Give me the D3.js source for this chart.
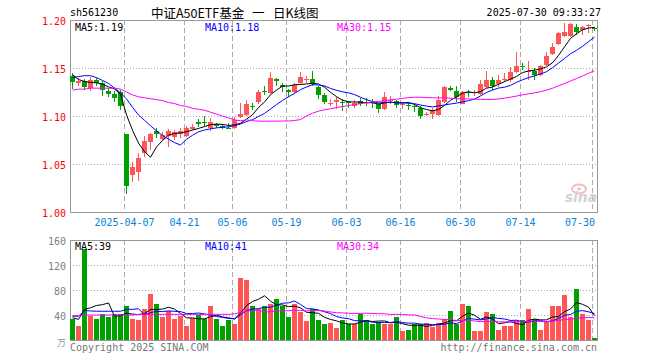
<!DOCTYPE html>
<html><head><meta charset="utf-8">
<script src="https://cdn.jsdelivr.net/npm/d3@7"></script>
<style>html,body{margin:0;padding:0;background:#fff;}svg{display:block;}</style>
</head><body>
<svg id="c" width="660" height="360"></svg>
<script>
const dates = ["2025-03-24","2025-03-25","2025-03-26","2025-03-27","2025-03-28","2025-03-31","2025-04-01","2025-04-02","2025-04-03","2025-04-07",
"2025-04-08","2025-04-09","2025-04-10","2025-04-11","2025-04-14","2025-04-15","2025-04-16","2025-04-17","2025-04-18","2025-04-21",
"2025-04-22","2025-04-23","2025-04-24","2025-04-25","2025-04-28","2025-04-29","2025-04-30","2025-05-06","2025-05-07","2025-05-08",
"2025-05-09","2025-05-12","2025-05-13","2025-05-14","2025-05-15","2025-05-16","2025-05-19","2025-05-20","2025-05-21","2025-05-22",
"2025-05-23","2025-05-26","2025-05-27","2025-05-28","2025-05-29","2025-05-30","2025-06-03","2025-06-04","2025-06-05","2025-06-06",
"2025-06-09","2025-06-10","2025-06-11","2025-06-12","2025-06-13","2025-06-16","2025-06-17","2025-06-18","2025-06-19","2025-06-20",
"2025-06-23","2025-06-24","2025-06-25","2025-06-26","2025-06-27","2025-06-30","2025-07-01","2025-07-02","2025-07-03","2025-07-04",
"2025-07-07","2025-07-08","2025-07-09","2025-07-10","2025-07-11","2025-07-14","2025-07-15","2025-07-16","2025-07-17","2025-07-18",
"2025-07-21","2025-07-22","2025-07-23","2025-07-24","2025-07-25","2025-07-28","2025-07-29","2025-07-30"];

const open = [1.142,1.134,1.136,1.129,1.138,1.134,1.126,1.123,1.125,1.081,
1.039,1.042,1.061,1.073,1.084,1.076,1.079,1.078,1.081,1.079,
1.086,1.094,1.094,1.087,1.092,1.090,1.088,1.087,1.099,1.101,
1.110,1.115,1.126,1.124,1.139,1.132,1.127,1.125,1.134,1.138,
1.139,1.130,1.122,1.113,1.115,1.115,1.115,1.110,1.116,1.115,
1.115,1.112,1.107,1.116,1.116,1.112,1.111,1.110,1.108,1.101,
1.102,1.101,1.115,1.129,1.126,1.113,1.125,1.124,1.123,1.130,
1.137,1.133,1.137,1.137,1.146,1.152,1.146,1.147,1.143,1.153,
1.165,1.175,1.183,1.183,1.193,1.190,1.194,1.192];

const close = [1.135,1.136,1.130,1.138,1.134,1.127,1.123,1.119,1.110,1.027,
1.047,1.056,1.074,1.081,1.081,1.080,1.084,1.083,1.084,1.087,
1.089,1.092,1.093,1.094,1.090,1.087,1.087,1.096,1.102,1.112,
1.109,1.125,1.125,1.140,1.136,1.130,1.125,1.132,1.141,1.139,
1.133,1.122,1.115,1.114,1.117,1.114,1.114,1.114,1.113,1.114,
1.114,1.107,1.120,1.117,1.111,1.113,1.110,1.109,1.100,1.102,
1.106,1.117,1.130,1.127,1.120,1.125,1.124,1.125,1.133,1.138,
1.131,1.138,1.139,1.146,1.152,1.151,1.147,1.143,1.152,1.163,
1.172,1.186,1.187,1.196,1.187,1.193,1.195,1.191];

const high = [1.145,1.140,1.139,1.141,1.140,1.136,1.129,1.126,1.127,1.081,
1.052,1.061,1.079,1.082,1.088,1.083,1.086,1.085,1.088,1.090,
1.092,1.097,1.100,1.098,1.093,1.092,1.093,1.099,1.114,1.117,
1.114,1.127,1.131,1.146,1.140,1.134,1.128,1.134,1.146,1.142,
1.147,1.131,1.124,1.118,1.120,1.118,1.116,1.117,1.119,1.119,
1.118,1.114,1.125,1.121,1.117,1.115,1.114,1.112,1.110,1.104,
1.108,1.121,1.131,1.131,1.131,1.126,1.127,1.127,1.138,1.147,
1.141,1.143,1.145,1.151,1.167,1.155,1.157,1.150,1.153,1.167,
1.176,1.187,1.197,1.197,1.196,1.194,1.196,1.193];

const low = [1.128,1.131,1.127,1.126,1.131,1.121,1.120,1.115,1.106,1.019,
1.031,1.032,1.057,1.065,1.077,1.075,1.068,1.075,1.077,1.078,
1.085,1.089,1.089,1.084,1.087,1.086,1.086,1.086,1.098,1.100,
1.106,1.113,1.122,1.123,1.131,1.125,1.120,1.124,1.133,1.134,
1.131,1.118,1.112,1.110,1.107,1.105,1.108,1.108,1.110,1.110,
1.108,1.103,1.106,1.112,1.108,1.107,1.106,1.104,1.097,1.100,
1.097,1.100,1.114,1.126,1.115,1.112,1.120,1.121,1.122,1.129,
1.127,1.130,1.135,1.135,1.145,1.148,1.138,1.138,1.142,1.152,
1.164,1.174,1.182,1.182,1.184,1.184,1.186,1.189];

const volume = [34,23,146,39,34,41,36.5,41,41,55,
34,32,49,73,57,36.5,47,34,38,22,
35.5,39.7,34,55,34,22,32,26,100,96,
54,50,54,57,66,54,36.5,57,44.5,30,
50,32,25,27.5,19,32,25,25,41,32,
25,28.5,26,26,36.5,14,16,25,26.4,27.5,
21,27.5,33,46,26,57,54,15,14,44.5,
41,16,22,23,30,32,50,33,16,30,
55,54,72,36.5,82,41,32,3.5];

const ma5Head = [1.143,1.138,1.136,1.135];
const ma10Head = [1.140,1.141,1.142,1.142,1.140,1.137,1.134,1.129,1.124];
const ma30Head = [1.127,1.128,1.128,1.129,1.129,1.129,1.129,1.129,1.128,1.125,
1.122,1.120,1.119,1.118,1.117,1.116,1.114,1.113,1.111,1.110,
1.108,1.107,1.106,1.104,1.102,1.100,1.098,1.096,1.095];
const volMa5Head = [35.5,33,49,51.5];
const volMa10Head = [38,38,47,46.5,46,46,46,46,46];
const volMa30Head = [39,39,40,40,40,40,40,40,40,40,40,41,41,41,41,41,41,41,41,41,41,41,41,41,41,41,41,42,44];

const priceTicks = [1.00,1.05,1.10,1.15,1.20];
const volTicks = [40,80,120,160];
const tickDates = ["2025-04-07","2025-04-21","2025-05-06","2025-05-19","2025-06-03","2025-06-16","2025-06-30","2025-07-14","2025-07-30"];
const tickLabels = ["2025-04-07","04-21","05-06","05-19","06-03","06-16","06-30","07-14","07-30"];
const titleParts = ["中证A50ETF基金","一","日K线图"];
const priceLegend = ["MA5:1.19","MA10:1.18","MA30:1.15"];
const volLegend = ["MA5:39","MA10:41","MA30:34"];
const maColors = ["#000000","#0000ff","#ff00ff"];

const RED = "#ff5555", GREEN = "#00a000", GRID = "#aaaaaa", BORDER = "#999999";
const MONO = "'DejaVu Sans Mono', monospace";
const CJK = "'Noto Sans CJK SC', sans-serif";

const svg = d3.select("#c");
const L = 70, R = 598;
const x = d3.scaleBand().domain(dates).range([L, R]).paddingInner(0).paddingOuter(0);
const y = d3.scaleLinear().domain([1.00, 1.20]).range([212, 20]);
const yv = d3.scaleLinear().domain([0, 160]).range([340, 240]);
const idx = d3.range(dates.length);
const cx = i => x(dates[i]) + 2.5;

function ma(vals, n, head) {
  return vals.map((v, i) => i < n - 1 ? head[i] : d3.mean(vals.slice(i - n + 1, i + 1)));
}

// ---------- header ----------
svg.append("text").attr("x", 70).attr("y", 12).attr("dominant-baseline", "central")
  .attr("font-family", MONO).attr("font-size", 10).attr("fill", "#000").text("sh561230");
const titleX = [151, 252, 273];
svg.selectAll(".ttl").data(titleParts).join("text")
  .attr("x", (d, k) => titleX[k]).attr("y", 12).attr("dominant-baseline", "central")
  .attr("font-family", CJK).attr("font-size", 12.5).attr("fill", "#000").text(d => d);
svg.append("text").attr("x", 601).attr("y", 12).attr("dominant-baseline", "central").attr("text-anchor", "end")
  .attr("font-family", MONO).attr("font-size", 10).attr("fill", "#000").text("2025-07-30 09:33:27");

// ---------- panels: grid & borders ----------
function panel(top, bottom, yScale, ticks) {
  const g = svg.append("g").attr("shape-rendering", "crispEdges");
  g.selectAll(".hg").data(ticks.filter(t => Math.abs(yScale(t) - top) > 1 && Math.abs(yScale(t) - bottom) > 1))
    .join("line").attr("x1", L).attr("x2", 597.5)
    .attr("y1", t => Math.round(yScale(t)) + 0.5).attr("y2", t => Math.round(yScale(t)) + 0.5)
    .attr("stroke", GRID).attr("stroke-dasharray", "1,2");
  g.selectAll(".vg").data(tickDates).join("line")
    .attr("x1", d => x(d) + 0.5).attr("x2", d => x(d) + 0.5)
    .attr("y1", top).attr("y2", bottom)
    .attr("stroke", GRID).attr("stroke-dasharray", "5,3");
  g.append("rect").attr("x", 70.5).attr("y", top + 0.5).attr("width", 527).attr("height", bottom - top)
    .attr("fill", "none").attr("stroke", BORDER);
}
panel(20, 212, y, priceTicks);
panel(240, 340, yv, volTicks);

// price axis labels
svg.selectAll(".py").data(priceTicks).join("text")
  .attr("x", 66).attr("y", t => y(t) + 1).attr("text-anchor", "end").attr("dominant-baseline", "central")
  .attr("font-family", MONO).attr("font-size", 10).attr("fill", "#ff0000").text(t => t.toFixed(2));
// volume axis labels
svg.selectAll(".vy").data(volTicks).join("text")
  .attr("x", 66).attr("y", t => yv(t) + 1).attr("text-anchor", "end").attr("dominant-baseline", "central")
  .attr("font-family", MONO).attr("font-size", 10).attr("fill", "#808080").text(t => t);
svg.append("text").attr("x", 66).attr("y", 342).attr("text-anchor", "end").attr("dominant-baseline", "central")
  .attr("font-family", CJK).attr("font-size", 9).attr("fill", "#999").text("万");

// x labels
svg.selectAll(".xl").data(tickDates).join("text")
  .attr("x", (d, i) => {
    const w = tickLabels[i].length * 6.02;
    let c = x(d) + 0.5;
    if (c + w / 2 > 595) c = 595 - w / 2;
    return c;
  })
  .attr("y", 222).attr("text-anchor", "middle").attr("dominant-baseline", "central")
  .attr("font-family", MONO).attr("font-size", 10).attr("fill", "#0a82d6").text((d, i) => tickLabels[i]);

// watermark
const wm = svg.append("g").attr("opacity", 0.9);
wm.append("ellipse").attr("cx", 579).attr("cy", 189).attr("rx", 7).attr("ry", 4.5)
  .attr("fill", "none").attr("stroke", "#f2b8b8").attr("stroke-width", 2);
wm.append("circle").attr("cx", 579).attr("cy", 189).attr("r", 1.8).attr("fill", "#f2b8b8");
wm.append("text").attr("x", 581).attr("y", 202).attr("text-anchor", "middle")
  .attr("font-family", "'DejaVu Sans', sans-serif").attr("font-style", "italic").attr("font-weight", "bold")
  .attr("font-size", 14).attr("fill", "#cfcfcf").text("sina");

// ---------- candles ----------
const up = i => close[i] >= open[i];
const cg = svg.append("g").attr("shape-rendering", "crispEdges");
cg.selectAll(".wick").data(idx).join("rect")
  .attr("x", i => x(dates[i]) + 2).attr("width", 1)
  .attr("y", i => Math.round(y(high[i])))
  .attr("height", i => Math.max(1, Math.round(y(low[i])) - Math.round(y(high[i]))))
  .attr("fill", i => up(i) ? RED : GREEN);
cg.selectAll(".body").data(idx).join("rect")
  .attr("x", i => x(dates[i])).attr("width", x.bandwidth() - 1)
  .attr("y", i => Math.round(y(Math.max(open[i], close[i]))))
  .attr("height", i => Math.max(1, Math.round(y(Math.min(open[i], close[i]))) - Math.round(y(Math.max(open[i], close[i])))))
  .attr("fill", i => up(i) ? RED : GREEN);

// price MAs
const pMAs = [ma(close, 5, ma5Head), ma(close, 10, ma10Head), ma(close, 30, ma30Head)];
const line = d3.line().x((v, i) => cx(i)).y(v => y(v));
svg.selectAll(".pma").data(pMAs).join("path")
  .attr("d", line).attr("fill", "none").attr("stroke", (d, k) => maColors[k]).attr("stroke-width", 1);

// price legend
const legX = [75, 205, 337];
svg.selectAll(".pleg").data(priceLegend).join("text")
  .attr("x", (d, k) => legX[k]).attr("y", 27).attr("dominant-baseline", "central")
  .attr("font-family", MONO).attr("font-size", 10).attr("fill", (d, k) => maColors[k]).text(d => d);

// ---------- volume ----------
const vg = svg.append("g").attr("shape-rendering", "crispEdges");
vg.selectAll(".vb").data(idx).join("rect")
  .attr("x", i => x(dates[i])).attr("width", x.bandwidth() - 1)
  .attr("y", i => Math.round(yv(volume[i])))
  .attr("height", i => 340 - Math.round(yv(volume[i])))
  .attr("fill", i => up(i) ? RED : GREEN);

const vMAs = [ma(volume, 5, volMa5Head), ma(volume, 10, volMa10Head), ma(volume, 30, volMa30Head)];
const vline = d3.line().x((v, i) => cx(i)).y(v => yv(v));
svg.selectAll(".vma").data(vMAs).join("path")
  .attr("d", vline).attr("fill", "none").attr("stroke", (d, k) => maColors[k]).attr("stroke-width", 1);

svg.selectAll(".vleg").data(volLegend).join("text")
  .attr("x", (d, k) => legX[k]).attr("y", 246).attr("dominant-baseline", "central")
  .attr("font-family", MONO).attr("font-size", 10).attr("fill", (d, k) => maColors[k]).text(d => d);

// footer
svg.append("text").attr("x", 70).attr("y", 347).attr("dominant-baseline", "central")
  .attr("font-family", MONO).attr("font-size", 10).attr("fill", "#777").text("Copyright 2025 SINA.COM");
svg.append("text").attr("x", 597).attr("y", 347).attr("dominant-baseline", "central").attr("text-anchor", "end")
  .attr("font-family", MONO).attr("font-size", 10).attr("fill", "#777").text("http://finance.sina.com.cn");
</script>
</body></html>
